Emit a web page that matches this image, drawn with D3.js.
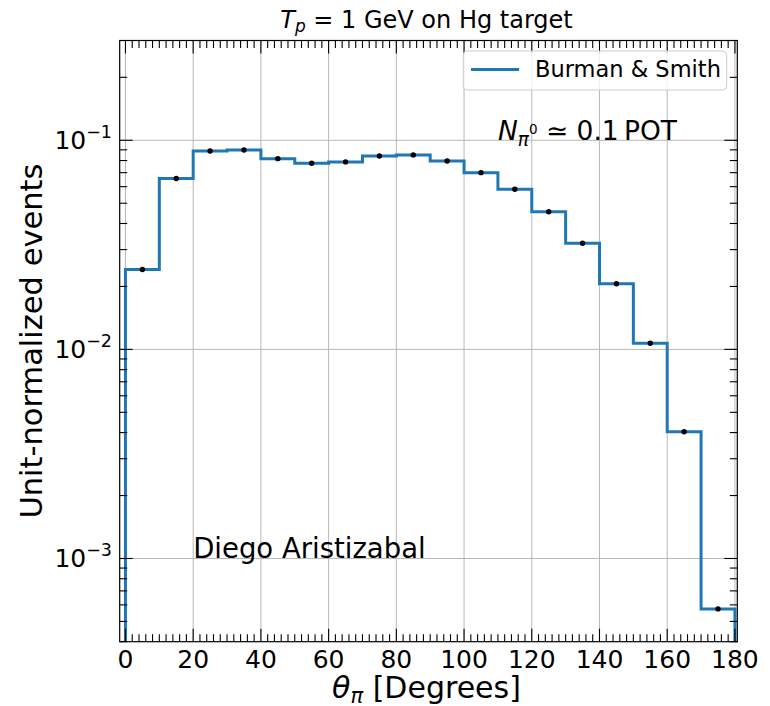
<!DOCTYPE html>
<html>
<head>
<meta charset="utf-8">
<script src="https://cdn.jsdelivr.net/npm/d3@7"></script>
<style>
  html, body { margin: 0; padding: 0; background: #fff; }
  svg { display: block; font-family: "DejaVu Sans", sans-serif; }
</style>
</head>
<body>
<svg id="chart" width="770" height="706"></svg>
<script>
// ---------------- data ----------------
const binEdges = [0, 10, 20, 30, 40, 50, 60, 70, 80, 90, 100, 110, 120, 130, 140, 150, 160, 170, 180];
const binCenters = [5, 15, 25, 35, 45, 55, 65, 75, 85, 95, 105, 115, 125, 135, 145, 155, 165, 175];
const eventFractions = [0.0241, 0.0656, 0.0889, 0.0899, 0.0817, 0.0776, 0.0788, 0.0841, 0.0851,
                        0.0796, 0.0700, 0.0583, 0.0455, 0.0322, 0.0206, 0.01069, 0.00404, 0.000574];
const xTickValues = [0, 20, 40, 60, 80, 100, 120, 140, 160, 180];
const yTickValues = [1e-3, 1e-2, 1e-1];
const yTickExponents = ["\u22123", "\u22122", "\u22121"];
const seriesName = "Burman & Smith";

// ---------------- layout ----------------
const m = { left: 119.7, right: 737.3, top: 40.5, bottom: 641.7 };
const svg = d3.select("#chart");

const x = d3.scaleLinear().domain([-1.7, 180.7]).range([m.left, m.right]);
const y = d3.scaleLog().domain([4e-4, 0.3]).range([m.bottom, m.top]);

const gridColor = "#b0b0b0";
const blue = "#1f77b4";

// grid
const grid = svg.append("g");
xTickValues.forEach(v => {
  grid.append("line").attr("x1", x(v)).attr("x2", x(v)).attr("y1", m.top).attr("y2", m.bottom)
    .attr("stroke", gridColor).attr("stroke-width", 0.9);
});
yTickValues.forEach(v => {
  grid.append("line").attr("x1", m.left).attr("x2", m.right).attr("y1", y(v)).attr("y2", y(v))
    .attr("stroke", gridColor).attr("stroke-width", 0.9);
});

// clip
svg.append("clipPath").attr("id", "clip").append("rect")
  .attr("x", m.left).attr("y", m.top).attr("width", m.right - m.left).attr("height", m.bottom - m.top);

// histogram step path
const pts = [];
pts.push([x(binEdges[0]), m.bottom + 20]);
eventFractions.forEach((v, i) => {
  pts.push([x(binEdges[i]), y(v)]);
  pts.push([x(binEdges[i + 1]), y(v)]);
});
pts.push([x(binEdges[binEdges.length - 1]), m.bottom + 20]);

svg.append("path")
  .attr("clip-path", "url(#clip)")
  .attr("d", d3.line()(pts))
  .attr("fill", "none").attr("stroke", blue).attr("stroke-width", 3)
  .attr("stroke-linejoin", "miter");

// points
svg.append("g").selectAll("circle").data(eventFractions).join("circle")
  .attr("cx", (d, i) => x(binCenters[i])).attr("cy", d => y(d)).attr("r", 2.7).attr("fill", "#000");

// ticks (inward, all sides)
const tk = svg.append("g").attr("stroke", "#000").attr("stroke-width", 1.1);
const majL = 13, minL = 7.5;
const xMinor = [];
for (const v of d3.range(0, 181, 2)) if (v % 20 !== 0) xMinor.push(v);
xTickValues.forEach(v => {
  tk.append("line").attr("x1", x(v)).attr("x2", x(v)).attr("y1", m.bottom).attr("y2", m.bottom - majL);
  tk.append("line").attr("x1", x(v)).attr("x2", x(v)).attr("y1", m.top).attr("y2", m.top + majL);
});
xMinor.forEach(v => {
  tk.append("line").attr("x1", x(v)).attr("x2", x(v)).attr("y1", m.bottom).attr("y2", m.bottom - minL);
  tk.append("line").attr("x1", x(v)).attr("x2", x(v)).attr("y1", m.top).attr("y2", m.top + minL);
});
const yMinor = [];
[1e-4, 1e-3, 1e-2, 1e-1].forEach(d => {
  for (let k = 2; k <= 9; k++) { const v = k * d; if (v >= 4e-4 && v <= 0.3) yMinor.push(v); }
});
yTickValues.forEach(v => {
  tk.append("line").attr("x1", m.left).attr("x2", m.left + majL).attr("y1", y(v)).attr("y2", y(v));
  tk.append("line").attr("x1", m.right).attr("x2", m.right - majL).attr("y1", y(v)).attr("y2", y(v));
});
yMinor.forEach(v => {
  tk.append("line").attr("x1", m.left).attr("x2", m.left + minL).attr("y1", y(v)).attr("y2", y(v));
  tk.append("line").attr("x1", m.right).attr("x2", m.right - minL).attr("y1", y(v)).attr("y2", y(v));
});

// frame
svg.append("rect").attr("x", m.left).attr("y", m.top).attr("width", m.right - m.left).attr("height", m.bottom - m.top)
  .attr("fill", "none").attr("stroke", "#000").attr("stroke-width", 1.2);

// x tick labels
svg.append("g").selectAll("text").data(xTickValues).join("text")
  .attr("x", d => x(d)).attr("y", 668).attr("text-anchor", "middle")
  .attr("font-size", 25).attr("fill", "#000").text(d => d);

// y tick labels
yTickValues.forEach((v, i) => {
  const t = svg.append("text").attr("x", 112).attr("y", y(v) + 9).attr("text-anchor", "end")
    .attr("font-size", 25).attr("fill", "#000");
  t.append("tspan").text("10");
  t.append("tspan").attr("font-size", 17.5).attr("dy", -11).text(yTickExponents[i]);
});

// axis labels
svg.append("text").attr("transform", `translate(42, ${(m.top + m.bottom) / 2}) rotate(-90)`)
  .attr("text-anchor", "middle").attr("font-size", 30.5).attr("fill", "#000").text("Unit-normalized events");

const xl = svg.append("text").attr("x", (m.left + m.right) / 2 - 2).attr("y", 698).attr("text-anchor", "middle")
  .attr("font-size", 30).attr("fill", "#000");
xl.append("tspan").attr("font-style", "italic").text("\u03b8");
xl.append("tspan").attr("font-style", "italic").attr("font-size", 21).attr("dy", 5).text("\u03c0");
xl.append("tspan").attr("dy", -5).text(" [Degrees]");

// title
const tt = svg.append("text").attr("x", (m.left + m.right) / 2 - 2).attr("y", 28).attr("text-anchor", "middle")
  .attr("font-size", 24).attr("fill", "#000");
tt.append("tspan").attr("font-style", "italic").text("T");
tt.append("tspan").attr("font-style", "italic").attr("font-size", 17).attr("dy", 4).text("p");
tt.append("tspan").attr("dy", -4).text(" = 1 GeV on Hg target");

// annotation: N_pi0 ~ 0.1 POT
const nt = svg.append("text").attr("x", x(110)).attr("y", y(0.1)).attr("font-size", 26.5).attr("fill", "#000");
nt.append("tspan").attr("font-style", "italic").text("N");
nt.append("tspan").attr("font-style", "italic").attr("font-size", 18.5).attr("dy", 6).text("\u03c0");
nt.append("tspan").attr("font-size", 13.5).attr("dy", -12).text("0");
nt.append("tspan").attr("dy", 6).text(" \u2243 0.1\u2009POT");

// annotation: author
svg.append("text").attr("x", x(20)).attr("y", y(1e-3)).attr("font-size", 27.5).attr("fill", "#000")
  .text("Diego Aristizabal");

// legend
const lg = svg.append("g");
lg.append("rect").attr("x", 463.3).attr("y", 51).attr("width", 263.4).attr("height", 39).attr("rx", 4)
  .attr("fill", "#fff").attr("fill-opacity", 0.8).attr("stroke", "#cccccc").attr("stroke-width", 1);
lg.append("line").attr("x1", 471).attr("x2", 519).attr("y1", 69.5).attr("y2", 69.5)
  .attr("stroke", blue).attr("stroke-width", 3);
lg.append("text").attr("x", 535).attr("y", 77).attr("font-size", 22.5).attr("fill", "#000").text(seriesName);
</script>
</body>
</html>
